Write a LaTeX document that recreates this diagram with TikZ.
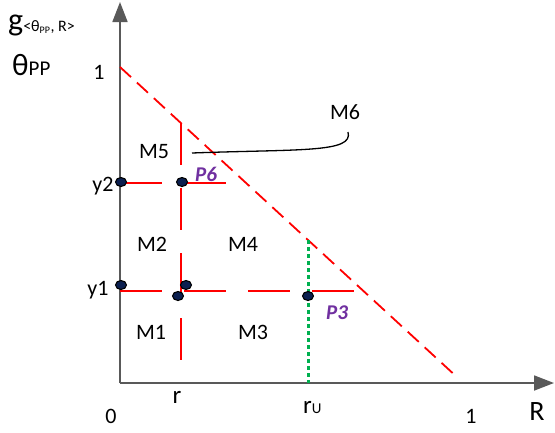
\documentclass[tikz,border=0pt]{standalone}
\usepackage{fontspec}
\setmainfont{Carlito}
\usetikzlibrary{arrows.meta,shapes.geometric}
\definecolor{axisgray}{HTML}{595959}
\definecolor{dotgreen}{HTML}{00B050}
\definecolor{navy}{HTML}{0B1F4F}
\definecolor{ppurple}{HTML}{7030A0}
\begin{document}
\begin{tikzpicture}[x=1pt,y=-1pt,
  axis/.style={draw=axisgray,line width=1.8pt,-{Triangle[length=20pt,width=15pt]}},
  redline/.style={draw=red,line width=2.8pt,dash pattern=on 42pt off 22pt},
  vredline/.style={draw=red,line width=2.8pt,dash pattern=on 42pt off 23pt},
  diag/.style={draw=red,line width=1.8pt,dash pattern=on 15pt off 8pt},
  greendot/.style={draw=dotgreen,line width=3pt,dash pattern=on 4pt off 3pt},
  dotnode/.style={ellipse,draw=black,fill=navy,line width=1.1pt,minimum width=11pt,minimum height=9pt,inner sep=0pt},
  lbl/.style={font=\fontsize{22}{24}\selectfont,inner sep=0pt},
  plbl/.style={font=\fontsize{21}{24}\selectfont\bfseries\itshape,text=ppurple,inner sep=0pt}]
\useasboundingbox (0,0) rectangle (555,432);
% coordinates
\coordinate (O) at (120,383);
\coordinate (ytop) at (120,2);
\coordinate (xend) at (554,383);
\coordinate (d1) at (120,67);
\coordinate (d2) at (458,378);
\coordinate (y2a) at (120,183);
\coordinate (y2b) at (228,183);
\coordinate (y1a) at (120,291);
\coordinate (y1b) at (355,291);
\coordinate (va) at (181,123);
\coordinate (vb) at (181,360);
\coordinate (ga) at (308,240);
\coordinate (gb) at (308,383);
\coordinate (m6a) at (192,153);
\coordinate (m6b) at (348,132);
% axes
\draw[axis] (O) -- (ytop);
\draw[axis] (O) -- (xend);
% lines
\draw[diag] (d1) -- (d2);
\draw[redline] (y2a) -- (y2b);
\draw[redline] (y1a) -- (y1b);
\draw[vredline] (va) -- (vb);
\draw[greendot] (ga) -- (gb);
\draw[black,line width=1.3pt] (m6a) .. controls (300,149) and (354,153) .. (m6b);
% dots
\node[dotnode] (p1) at (121,182) {};
\node[dotnode] (p6) at (182,182) {};
\node[dotnode] (p2) at (121,285) {};
\node[dotnode] (p4) at (186,285) {};
\node[dotnode] (p5) at (178,296) {};
\node[dotnode] (p3) at (308,296) {};
% region labels
\node[lbl] (M5) at (154,152) {M5};
\node[lbl] (M6) at (345,112) {M6};
\node[lbl] (M2) at (152,244) {M2};
\node[lbl] (M4) at (243,244) {M4};
\node[lbl] (M1) at (151,332) {M1};
\node[lbl] (M3) at (253,332) {M3};
\node[plbl] (P6) at (206,174) {P6};
\node[plbl] (P3) at (337,313) {P3};
% tick labels
\node[lbl] (t1) at (99,72) {1};
\node[lbl] (ty2) at (103,186) {y2};
\node[lbl] (ty1) at (98,290) {y1};
\node[lbl] (t0) at (111,416) {0};
\node[lbl,font=\fontsize{25}{26}\selectfont] (tr) at (177,397) {r};
\node[lbl,anchor=base west] (tru) at (303,413) {\fontsize{25}{26}\selectfont r\fontsize{15}{16}\selectfont U};
\node[lbl] (tx1) at (471,416) {1};
\node[inner sep=0pt,font=\fontsize{28}{30}\selectfont] (tR) at (537,412) {R};
% axis titles
\node[inner sep=0pt,anchor=base west] (gl) at (8,30) {\fontsize{32}{34}\selectfont g\fontsize{16}{18}\selectfont\raisebox{-1pt}{<θ\textsubscript{\fontsize{10}{11}\selectfont PP}, R>}};
\node[inner sep=0pt,anchor=base west] (th) at (12,75) {\fontsize{31}{32}\selectfont θ\fontsize{21}{22}\selectfont PP};
\end{tikzpicture}
\end{document}
